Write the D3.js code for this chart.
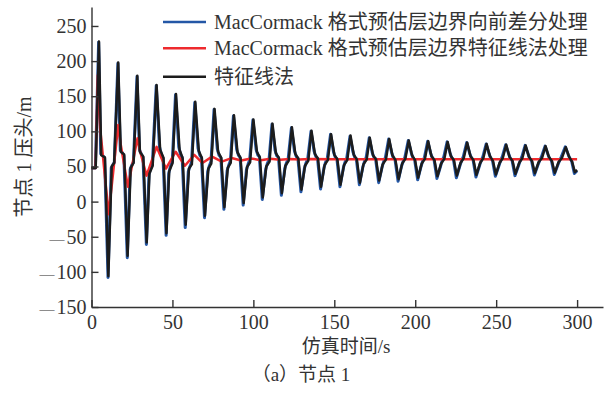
<!DOCTYPE html>
<html>
<head>
<meta charset="utf-8">
<script src="https://cdn.jsdelivr.net/npm/d3@7"></script>
<style>
  body { margin: 0; background: #fff; }
  svg text { font-family: "Liberation Serif", "Noto Sans CJK SC", serif; fill: #333; }
</style>
</head>
<body>
<div id="chart"></div>
<script>
// series: [time (s), head (m)]
const blueLine = [
  [0,48],[2.4,48],
  [4.4,227],[5.7,68],[6.9,66],[8.1,62],[10.2,-108],[12.2,48],[13.1,52],[14.1,56],
  [16.3,197],[17.8,73],[18.9,70],[20.0,65],[22.1,-80],[23.9,46],[24.9,52],[25.9,56],
  [28.1,178],[29.6,74],[30.7,68],[31.8,63],[33.9,-61],[35.5,38],[36.5,47],[37.6,53],
  [40.0,165],[42.0,78],[43.1,68],[44.2,62],[46.1,-48],[47.7,40],[48.7,50],[49.9,57],
  [51.9,152],[53.9,78],[55.0,67],[56.0,63],[57.9,-37],[59.8,43],[60.8,50],[61.8,56],
  [63.8,141],[65.8,76],[66.9,66],[67.9,63],[69.8,-23],[71.8,43],[72.8,51],[73.8,57],
  [75.7,131],[77.7,75],[78.8,66],[79.9,63],[81.8,-11],[83.8,44],[84.8,52],[85.8,58],
  [87.7,122],[89.7,74],[90.8,66],[91.8,63],[93.7,-5],[95.7,45],[96.7,53],[97.7,59],
  [99.7,116],[101.7,74],[102.8,66],[103.7,64],[105.5,3],[107.6,46],[108.6,54],[109.7,60],
  [111.5,110],[113.4,73],[114.5,65],[115.5,63],[117.3,9],[119.4,47],[120.4,55],[121.5,61],
  [123.5,105],[125.4,72],[126.5,64],[127.5,62],[129.4,14],[131.5,47],[132.5,55],[133.6,61],
  [135.6,100],[137.5,72],[138.6,64],[139.6,62],[141.5,18],[143.6,48],[144.6,56],[145.7,62],
  [147.7,96],[149.5,71],[150.6,63],[151.6,61],[153.5,21],[155.6,48],[156.6,56],[157.7,62],
  [159.7,93],[161.5,71],[162.6,63],[163.6,61],[165.5,24],[167.6,49],[168.6,57],[169.7,63],
  [171.6,91],[173.4,70],[174.5,63],[175.5,61],[177.4,27],[179.5,49],[180.5,57],[181.6,63],
  [183.6,89],[185.4,70],[186.5,62],[187.5,60],[189.4,29],[191.5,50],[192.5,57],[193.6,63],
  [195.7,87],[197.5,70],[198.6,62],[199.6,60],[201.5,31],[203.6,50],[204.6,58],[205.7,63],
  [207.7,86],[209.5,69],[210.6,62],[211.6,60],[213.4,33],[215.6,50],[216.6,58],[217.7,64],
  [219.7,85],[221.5,69],[222.6,62],[223.6,60],[225.4,34],[227.6,51],[228.6,58],[229.7,64],
  [231.8,84],[233.6,69],[234.7,62],[235.7,60],[237.5,35],[239.7,51],[240.7,58],[241.8,64],
  [243.8,82],[245.6,68],[246.7,61],[247.7,59],[249.5,36],[251.7,51],[252.7,58],[253.8,64],
  [255.9,81],[257.7,68],[258.8,61],[259.8,59],[261.6,37],[263.8,51],[264.8,58],[265.9,64],
  [267.9,80],[269.7,68],[270.8,61],[271.8,59],[273.6,38],[275.8,52],[276.8,58],[278.0,64],
  [280.2,79],[282.0,67],[283.1,61],[284.1,59],[285.9,38.5],[288.1,52],[289.1,58],[290.3,64],
  [292.7,78],[294.5,67],[295.6,61],[296.6,58],[298.3,40],[300,44]
];

const redLine = [
  [0,48],[2.5,48],[3.9,180],[5.3,105],[6.4,80],[10.6,-18],[16.5,109],[18.0,82],
  [22.5,21],[28.4,90],[30.0,72],[34.0,37],[40.2,78],[46.0,47],[52.0,71],[57.7,51],
  [63.5,66.5],[68.5,55],[74.5,64],[80.5,57],[86.5,62],[92.5,58.5],[98.5,61.5],
  [104.5,59],[110.5,61],[116.5,59.5],[122.5,60.8],[128.5,59.8],[134.5,60.6],
  [150,60.2],[200,60.4],[250,60.3],[300,60.3]
];

const blackLine = [
  [0,48],[2.6,48],
  [4.6,228],[6.0,66],[8.3,63],[10.4,-106],[12.5,50],[14.0,55],
  [16.5,198],[18.1,71],[20.2,67],[22.3,-77],[24.2,48],[26.0,55],
  [28.3,179],[29.9,71],[32.0,64],[34.1,-58],[35.8,40],[37.8,51],
  [40.2,166],[42.4,74],[44.5,62],[46.3,-45],[48.0,43],[50.1,55],
  [52.2,153],[54.4,74],[56.3,62],[58.2,-33],[60.2,47],[62.0,53],
  [64.1,142],[66.3,72],[68.2,62],[70.1,-20],[72.2,47],[74.0,54],
  [76.0,132],[78.2,71],[80.2,62],[82.1,-8],[84.2,48],[86.0,55],
  [88.0,123],[90.2,70],[92.1,62],[94.0,-2],[96.1,49],[98.0,56],
  [100.0,117],[102.2,71],[104.0,63],[105.8,6],[108.0,50],[110.0,57],
  [111.8,111],[113.9,69],[115.8,62],[117.6,12],[119.8,51],[121.8,58],
  [123.8,106],[125.9,68],[127.8,61],[129.7,17],[131.9,51],[133.9,58],
  [135.9,101],[138.0,68],[139.9,61],[141.8,21],[144.0,52],[146.0,59],
  [148.0,96],[150.0,67],[151.9,60],[153.8,24],[156.0,52],[158.0,59],
  [160.0,94],[162.0,67],[163.9,60],[165.8,27],[168.0,53],[170.0,60],
  [171.9,91],[173.9,66],[175.8,60],[177.7,30],[179.9,53],[181.9,60],
  [183.9,89],[185.9,66],[187.8,59],[189.7,32],[191.9,54],[193.9,61],
  [196.0,87],[198.0,66],[199.9,59],[201.8,34],[204.0,54],[206.0,61],
  [208.0,86],[210.0,65],[211.9,59],[213.7,36],[216.0,54],[218.0,61],
  [220.0,85],[222.0,65],[223.9,59],[225.7,37],[228.0,55],[230.0,62],
  [232.1,84],[234.1,65],[236.0,59],[237.8,38],[240.1,55],[242.1,62],
  [244.1,82],[246.1,65],[248.0,58],[249.8,38.5],[252.1,55],[254.1,62],
  [256.2,81],[258.2,64],[260.1,58],[261.9,39.5],[264.2,55],[266.2,62],
  [268.2,80],[270.2,64],[272.1,58],[273.9,40.5],[276.2,56],[278.3,62],
  [280.5,79],[282.5,64],[284.4,58],[286.2,41],[288.5,56],[290.6,62],
  [293.0,77.5],[295.0,64],[296.9,57],[298.6,42],[300,45]
];

const xTicks = [0, 50, 100, 150, 200, 250, 300];
const yTicks = [-150, -100, -50, 0, 50, 100, 150, 200, 250];
const legendNames = [
  "MacCormack 格式预估层边界向前差分处理",
  "MacCormack 格式预估层边界特征线法处理",
  "特征线法"
];
const colors = ["#2457a6", "#ee2a2e", "#1c1c1c"];

const W = 607, H = 398;
const margin = {left: 91.5, top: 7, right: 4, bottom: 91};

const svg = d3.select("#chart").append("svg")
  .attr("width", W).attr("height", H);

const x = d3.scaleLinear().domain([0, 316]).range([margin.left, W - margin.right]);
const y = d3.scaleLinear().domain([-150, 277]).range([H - margin.bottom, margin.top]);

const line = d3.line().x(d => x(d[0])).y(d => y(d[1]));

// draw blue, red, then black on top
[[blueLine, 0, 3.0], [redLine, 1, 2.5], [blackLine, 2, 2.5]].forEach(([data, i, w]) => {
  svg.append("path")
    .datum(data)
    .attr("d", line)
    .attr("fill", "none")
    .attr("stroke", colors[i])
    .attr("stroke-width", w)
    .attr("stroke-linejoin", "round");
});

// axes, ticks pointing inward
const xAxis = svg.append("g")
  .attr("transform", `translate(0,${H - margin.bottom})`)
  .call(d3.axisBottom(x).tickValues(xTicks).tickSizeInner(-7).tickSizeOuter(0).tickPadding(8));

const yAxis = svg.append("g")
  .attr("transform", `translate(${margin.left},0)`)
  .call(d3.axisLeft(y).tickValues(yTicks).tickSizeInner(-7).tickSizeOuter(0).tickPadding(5));

[xAxis, yAxis].forEach(g => {
  g.select(".domain").attr("stroke", "#333").attr("stroke-width", 1.4);
  g.selectAll(".tick line").attr("stroke", "#333").attr("stroke-width", 1.4);
  g.selectAll(".tick text")
    .attr("font-size", 20)
    .attr("font-family", "Liberation Serif")
    .attr("fill", "#333");
});

// long minus sign like the typeset original
yAxis.selectAll(".tick text").each(function(d) {
  if (d < 0) {
    const t = d3.select(this).text("");
    t.append("tspan").attr("font-size", 15).text("—");
    t.append("tspan").attr("dx", 2).text(String(-d));
  }
});

// legend
legendNames.forEach((name, i) => {
  const ly = [22, 48.3, 76.7][i];
  svg.append("line")
    .attr("x1", 163).attr("x2", 206)
    .attr("y1", ly).attr("y2", ly)
    .attr("stroke", colors[i]).attr("stroke-width", 2.4);
  svg.append("text")
    .attr("x", 214).attr("y", ly)
    .attr("dy", "0.35em")
    .attr("font-size", 20)
    .text(name);
});

// axis titles
svg.append("text")
  .attr("transform", `translate(24,157) rotate(-90)`)
  .attr("text-anchor", "middle")
  .attr("dominant-baseline", "central")
  .attr("font-size", 20)
  .text("节点 1 压头/m");

svg.append("text")
  .attr("x", 346).attr("y", 353)
  .attr("text-anchor", "middle")
  .attr("font-size", 19)
  .text("仿真时间/s");

svg.append("text")
  .attr("x", 301).attr("y", 381)
  .attr("text-anchor", "middle")
  .attr("font-size", 19)
  .text("（a）节点 1");
</script>
</body>
</html>
